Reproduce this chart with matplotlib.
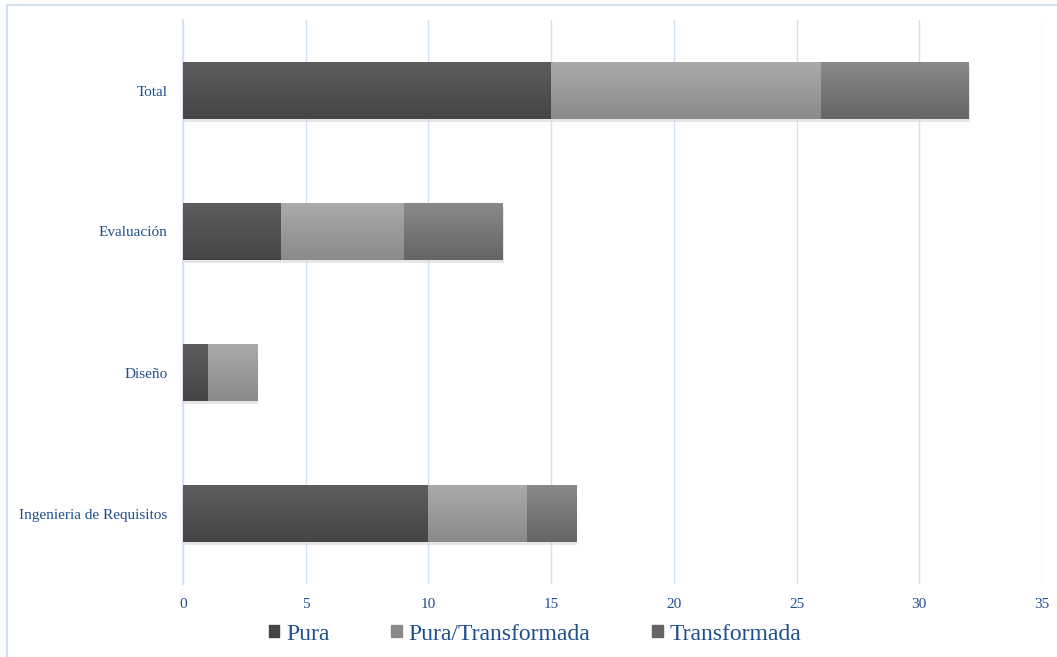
import matplotlib
matplotlib.use("Agg")
import matplotlib.pyplot as plt
import matplotlib.colors as mcolors
from matplotlib.lines import Line2D
import numpy as np

# datos
categorias = ["Ingenieria de Requisitos", "Diseño", "Evaluación", "Total"]
pura = [10, 1, 4, 15]
pura_transformada = [4, 2, 5, 11]
transformada = [2, 0, 4, 6]
series = ["Pura", "Pura/Transformada", "Transformada"]
xticks = [0, 5, 10, 15, 20, 25, 30, 35]

# colores (arriba claro -> abajo oscuro)
GRAD = [("#5d5d5d", "#454545"), ("#aaaaaa", "#8a8a8a"), ("#898989", "#656565")]
TEXTO = "#1F4E8C"
GRID = "#D3E0F0"

plt.rcParams["font.family"] = ["Liberation Serif", "DejaVu Serif"]

fig = plt.figure(figsize=(10.57, 6.57), dpi=100)
ax = fig.add_axes([183 / 1057, 1 - 584 / 657, (1042 - 183) / 1057, (584 - 20) / 657])

y = np.arange(len(categorias))
alto = 0.40
izq = np.zeros(len(categorias))
for valores, (c1, c2), nombre in zip([pura, pura_transformada, transformada], GRAD, series):
    bars = ax.barh(y, valores, height=alto, left=izq, color=c2, label=nombre,
                   edgecolor="none", zorder=3)
    cmap = mcolors.LinearSegmentedColormap.from_list("g", [c1, c2])
    for b in bars:
        if b.get_width() <= 0:
            continue
        x0, y0 = b.get_x(), b.get_y()
        w, h = b.get_width(), b.get_height()
        # sombra suave
        ax.add_patch(plt.Rectangle((x0 + 0.06, y0 - 0.025), w, h, color="#cfcfcf",
                                   zorder=2, lw=0, alpha=0.5))
        im = ax.imshow(np.linspace(0, 1, 64).reshape(-1, 1), cmap=cmap, aspect="auto",
                       extent=(x0, x0 + w, y0, y0 + h), origin="upper", zorder=4)
        im.set_clip_path(b)
    izq = izq + np.array(valores)

ax.set_xlim(0, 35)
ax.set_ylim(-0.5, 3.5)
ax.set_xticks(xticks)
ax.set_xticklabels([str(t) for t in xticks], fontsize=11, color=TEXTO)
ax.set_yticks(y)
ax.set_yticklabels(categorias, fontsize=11, color=TEXTO)
ax.tick_params(axis="x", length=0, pad=10)
ax.tick_params(axis="y", length=0, pad=11)
ax.grid(axis="x", color=GRID, linewidth=1, zorder=0)
for s in ["top", "right", "bottom"]:
    ax.spines[s].set_visible(False)
ax.spines["left"].set_color(GRID)
ax.spines["left"].set_linewidth(1.2)
ax.spines["left"].set_zorder(1)

# borde del grafico
fig.add_artist(Line2D([7 / 1057, 1], [1 - 5 / 657, 1 - 5 / 657], color=GRID, lw=1.5))
fig.add_artist(Line2D([7 / 1057, 7 / 1057], [0, 1 - 5 / 657], color=GRID, lw=1.5))

handles = [plt.Rectangle((0, 0), 1, 1, color=c2) for (c1, c2) in GRAD]
leg = fig.legend(handles, series, loc="center", bbox_to_anchor=(535 / 1057, 1 - 634 / 657),
                 ncol=3, frameon=False, fontsize=17, handlelength=0.45, handleheight=0.45,
                 handletextpad=0.3, columnspacing=2.6)
for t in leg.get_texts():
    t.set_color(TEXTO)

fig.savefig("out.png", dpi=100, facecolor="white")
